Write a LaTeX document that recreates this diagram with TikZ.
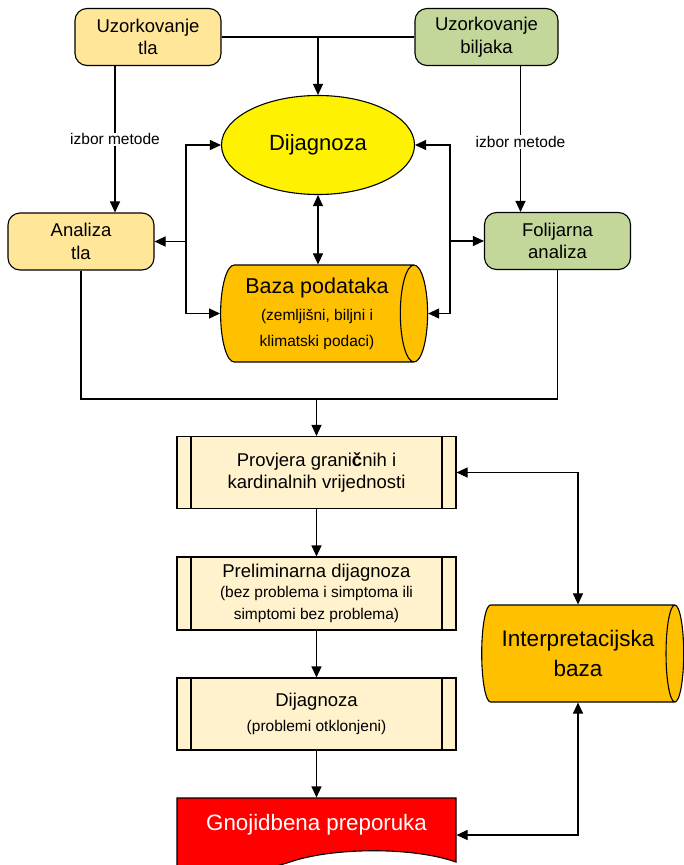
\documentclass[tikz,border=0pt]{standalone}
\usepackage{fontspec}
\setmainfont{Liberation Sans}
\usetikzlibrary{calc}
\usetikzlibrary{arrows.meta}
\usetikzlibrary{shapes.geometric}
\definecolor{tlo}{HTML}{FFE699}
\definecolor{biljka}{HTML}{C4D79B}
\definecolor{bazaboja}{HTML}{FFC000}
\definecolor{proces}{HTML}{FFF2CC}
\newcommand\sitnotekst{\fontsize{15.5}{20}\selectfont}
\tikzset{
  uzorak/.style={draw, rounded corners=12pt, align=center, minimum width=146pt,
    minimum height=57pt, inner sep=0pt, font=\fontsize{18.5}{22.5}\selectfont},
  korak/.style={draw, fill=proces, align=center, minimum width=279pt, minimum height=72pt,
    inner sep=0pt, font=\fontsize{18.5}{22.5}\selectfont,
    path picture={
      \draw ([xshift=14pt]path picture bounding box.north west) -- ([xshift=14pt]path picture bounding box.south west);
      \draw ([xshift=-14pt]path picture bounding box.north east) -- ([xshift=-14pt]path picture bounding box.south east);}},
  valjak/.style={cylinder, draw, fill=bazaboja, aspect=0.38, align=center, inner sep=0pt},
  metoda/.style={fill=white, inner sep=1pt, font=\fontsize{15.5}{18}\selectfont}
}

\begin{document}
\begin{tikzpicture}[x=1pt,y=-1pt,line width=1.1pt,>={Triangle[length=11pt,width=10pt]}]
	\useasboundingbox (0,0) rectangle (683,865);
	% uzorkovanje
	\node [uzorak,fill=tlo] (ut) at (148,37) {Uzorkovanje\\tla};
	\node [uzorak,fill=biljka,minimum width=143pt] (ub) at (486.5,37) {Uzorkovanje\\biljaka};
	\node [uzorak,fill=tlo] (at) at (81,241.5) {Analiza\\tla};
	\node [uzorak,fill=biljka] (fa) at (557.5,241) {Folijarna\\analiza};
	% dijagnoza i baza
	\node [ellipse,draw,fill=yellow,minimum width=193pt,minimum height=99pt,inner sep=0pt,
	  font=\fontsize{22}{26}\selectfont] (dij) at (318,145) {Dijagnoza};
	\node [valjak,minimum height=207pt,minimum width=97pt,font=\fontsize{21.5}{26}\selectfont]
	  (baza) at (317,313.5)
	  {Baza podataka\\[1pt]\sitnotekst (zemljišni, biljni i\\\sitnotekst klimatski podaci)};
	% koraci
	\node [korak] (pv) at (316.5,472.5) {Provjera grani\textbf{č}nih i\\kardinalnih vrijednosti};
	\node [korak,minimum height=73pt] (pd) at (316.5,593.5)
	  {Preliminarna dijagnoza\\[-3pt]\sitnotekst (bez problema i simptoma ili\\\sitnotekst simptomi bez problema)};
	\node [korak] (dg) at (316.5,714) {Dijagnoza\\[2pt]\sitnotekst (problemi otklonjeni)};
	\node [valjak,minimum height=202pt,minimum width=97pt,font=\fontsize{22.5}{30}\selectfont]
	  (ib) at (578,653.5) {Interpretacijska\\baza};
	% preporuka
	\fill [red] (177,798) -- (456,798) -- (456,862)
	  .. controls (410,846) and (330,848) .. (290,862)
	  .. controls (250,875) and (200,878) .. (177,872) -- cycle;
	\draw (177,872) -- (177,798) -- (456,798) -- (456,862)
	  .. controls (410,846) and (330,848) .. (290,862)
	  .. controls (250,875) and (200,878) .. (177,872);
	\node [minimum width=279pt,minimum height=66pt,inner sep=0pt] (gp) at (316.5,831) {};
	\node [text=white,font=\fontsize{22.3}{26}\selectfont] (gpt) at ($(gp.center)+(0,-6)$) {Gnojidbena preporuka};
	% veze
	\draw (ut.east) -- (ub.west);
	\draw [->] (dij.north |- ut.east) -- (dij.north);
	\path (ut.south) ++(-33,0) coordinate (ut1);
	\draw [->] (ut1) -- (ut1 |- at.north) node [metoda,midway] {izbor metode};
	\path (ub.south) ++(34,0) coordinate (ub1);
	\draw [->] (ub1) -- (ub1 |- fa.north) node [metoda,midway,yshift=-3pt] {izbor metode};
	\coordinate (lk) at (186,241.5);
	\coordinate (dk) at (450,241);
	\draw [<->] (dij.west) -| (lk) |- (baza.west);
	\draw [->] (lk) -- (at.east);
	\draw [<->] (dij.east) -| (dk) |- (baza.east);
	\draw [->] (dk) -- (fa.west);
	\draw [<->] (dij.south) -- (dij.south |- baza.north);
	\path (pv.north) ++(0,-37) coordinate (sp);
	\draw (at.south) |- (sp) -| (fa.south);
	\draw [->] (sp) -- (pv.north);
	\draw [->] (pv.south) -- (pd.north);
	\draw [->] (pd.south) -- (dg.north);
	\draw [->] (dg.south) -- (gp.north);
	\draw [<->] (pv.east) -| (ib.north);
	\draw [<->] (ib.south) |- ([yshift=-4pt]gp.east);
\end{tikzpicture}
\end{document}
